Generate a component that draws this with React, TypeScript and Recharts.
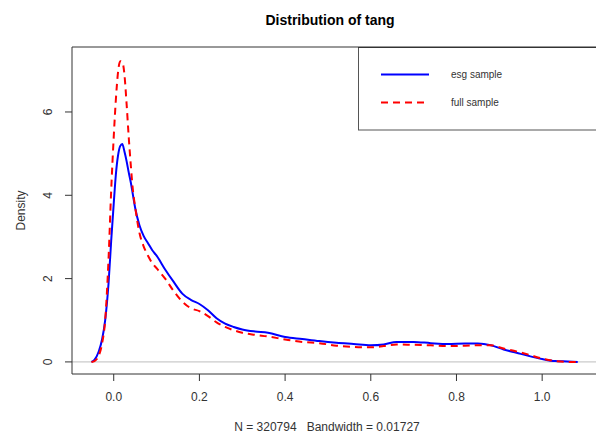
import React from "react";
import { LineChart, Line, XAxis, YAxis, ReferenceLine } from "recharts";

const X = [-0.052, -0.045, -0.035, -0.027, -0.02, -0.012, -0.006, 0, 0.005, 0.01, 0.015, 0.02, 0.025, 0.03, 0.035, 0.04, 0.045, 0.05, 0.06, 0.07, 0.08, 0.09, 0.1, 0.12, 0.14, 0.16, 0.18, 0.2, 0.22, 0.24, 0.26, 0.28, 0.3, 0.33, 0.36, 0.4, 0.44, 0.48, 0.52, 0.56, 0.6, 0.63, 0.66, 0.7, 0.74, 0.78, 0.82, 0.85, 0.88, 0.91, 0.94, 0.97, 1.0, 1.03, 1.06, 1.083];
const ESG = [0, 0.05, 0.25, 0.55, 1.0, 1.9, 2.9, 3.8, 4.5, 4.95, 5.18, 5.23, 5.05, 4.82, 4.55, 4.3, 4.0, 3.7, 3.28, 3.02, 2.85, 2.68, 2.55, 2.22, 1.92, 1.64, 1.49, 1.39, 1.24, 1.05, 0.92, 0.84, 0.78, 0.73, 0.7, 0.6, 0.55, 0.5, 0.46, 0.43, 0.4, 0.42, 0.48, 0.48, 0.45, 0.43, 0.44, 0.44, 0.4, 0.3, 0.22, 0.14, 0.07, 0.02, 0.01, 0];
const FULL = [0, 0.02, 0.15, 0.45, 1.0, 2.5, 4.1, 5.4, 6.3, 6.95, 7.22, 7.2, 6.9, 6.2, 5.4, 4.7, 4.1, 3.72, 3.1, 2.77, 2.55, 2.37, 2.25, 2.0, 1.7, 1.45, 1.29, 1.22, 1.1, 0.95, 0.84, 0.76, 0.7, 0.65, 0.61, 0.54, 0.48, 0.45, 0.39, 0.36, 0.35, 0.38, 0.42, 0.41, 0.4, 0.38, 0.39, 0.4, 0.4, 0.32, 0.25, 0.17, 0.08, 0.02, 0, 0];
const X_TICKS = [0, 0.2, 0.4, 0.6, 0.8, 1.0];
const Y_TICKS = [0, 2, 4, 6];
const SERIES_NAMES = ["esg sample", "full sample"];
const TITLE = "Distribution of tang";
const X_LABEL = "N = 320794   Bandwidth = 0.01727";
const Y_LABEL = "Density";
const Y_DOMAIN: [number, number] = [-0.29, 7.56];
const X_DOMAIN: [number, number] = [-0.0974, 1.128];

const data = X.map((x, i) => ({ x, esg: ESG[i], full: FULL[i] }));

const FONT = "'Liberation Sans', Arial, Helvetica, sans-serif";
const INK = "#333";

const YTick = (props: any) => {
  const { x, y, payload } = props;
  const bx = x - 11;
  return (
    <text x={bx} y={y} transform={`rotate(-90 ${bx} ${y})`} textAnchor="middle" fontSize={12} fontFamily={FONT} fill={INK}>
      {payload.value}
    </text>
  );
};

export default function App() {
  return (
    <div style={{ position: "fixed", left: 0, top: 0, width: 596, height: 439, overflow: "hidden", background: "#fff" }}>
      <LineChart width={640} height={439} data={data} margin={{ top: 47, right: 43, bottom: 0, left: 0 }}>
        <XAxis
          xAxisId="b"
          type="number"
          dataKey="x"
          domain={X_DOMAIN}
          ticks={X_TICKS}
          allowDataOverflow
          height={65}
          tickSize={7}
          tickMargin={11}
          tickFormatter={(v: number) => v.toFixed(1)}
          stroke={INK}
          tick={{ fontSize: 12, fontFamily: FONT, fill: INK }}
        />
        <YAxis
          type="number"
          domain={Y_DOMAIN}
          ticks={Y_TICKS}
          allowDataOverflow
          width={72}
          tickSize={7}
          tickMargin={2}
          stroke={INK}
          tick={<YTick />}
        />
        <ReferenceLine xAxisId="b" y={0} stroke="#bebebe" strokeWidth={1} />
        <ReferenceLine xAxisId="b" y={Y_DOMAIN[1]} stroke={INK} strokeWidth={1} />
        <Line xAxisId="b" type="monotone" dataKey="esg" stroke="#0000ff" strokeWidth={2} dot={false} isAnimationActive={false} />
        <Line xAxisId="b" type="monotone" dataKey="full" stroke="#ff0000" strokeWidth={2} strokeDasharray="7 5" dot={false} isAnimationActive={false} />
      </LineChart>
      <svg width={596} height={439} style={{ position: "absolute", left: 0, top: 0, pointerEvents: "none" }}>
        <text x={330} y={25} textAnchor="middle" fontSize={14} fontWeight="bold" fontFamily={FONT} fill="#000">{TITLE}</text>
        <text x={327} y={431} textAnchor="middle" fontSize={12} fontFamily={FONT} fill={INK} style={{ whiteSpace: "pre" }} xmlSpace="preserve">{X_LABEL}</text>
        <text x={24.5} y={210.5} transform="rotate(-90 24.5 210.5)" textAnchor="middle" fontSize={12} fontFamily={FONT} fill={INK}>{Y_LABEL}</text>
        <rect x={358.5} y={47.5} width={300} height={82.5} fill="#fff" stroke="#555" strokeWidth={1} />
        <line x1={358} x2={596} y1={47.5} y2={47.5} stroke={INK} strokeWidth={1} />
        <line x1={381} x2={429} y1={74.5} y2={74.5} stroke="#0000ff" strokeWidth={2} />
        <line x1={381} x2={429} y1={102.5} y2={102.5} stroke="#ff0000" strokeWidth={2} strokeDasharray="7 5" />
        <text x={451} y={78} fontSize={10} fontFamily={FONT} fill={INK}>{SERIES_NAMES[0]}</text>
        <text x={451} y={106} fontSize={10} fontFamily={FONT} fill={INK}>{SERIES_NAMES[1]}</text>
      </svg>
    </div>
  );
}
